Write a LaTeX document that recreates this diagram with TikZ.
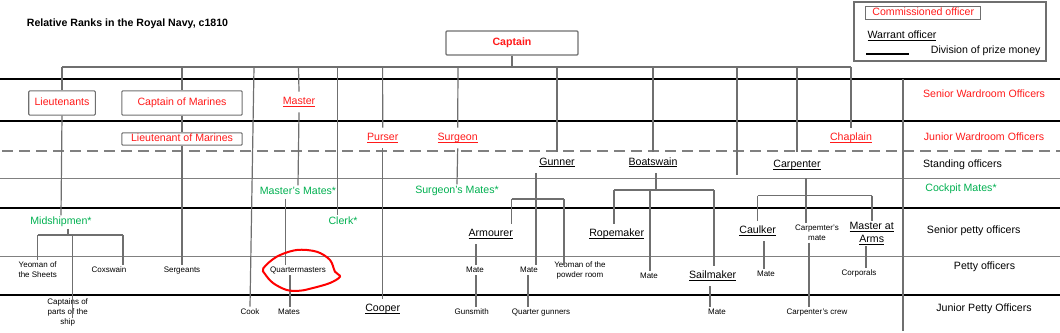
\documentclass[tikz,border=0pt]{standalone}
\usepackage{fontspec}
\setmainfont{Liberation Sans}
\definecolor{ln}{HTML}{6F6F6F}
\definecolor{rl}{HTML}{808080}
\definecolor{rd}{HTML}{FF1A1A}
\definecolor{gr}{HTML}{00B050}
\newcommand\ulin[1]{\setbox0=\hbox{#1}\rlap{\rule[-1.7pt]{\wd0}{0.7pt}}\box0}
\tikzset{
  base/.style={inner sep=1.5pt, font=\fontsize{10.6}{13}\selectfont, text height=7.7pt, text depth=2.2pt},
  multi/.style={inner sep=1.5pt, font=\fontsize{10.6}{13}\selectfont, align=center},
  offc/.style={base, text=rd, outer sep=4pt},
  wo/.style={base, outer sep=4pt},
  grn/.style={base, text=gr},
  sml/.style={inner sep=1.5pt, font=\fontsize{8}{10}\selectfont, text height=5.8pt, text depth=1.7pt},
  smlm/.style={inner sep=1.5pt, font=\fontsize{8}{10}\selectfont, align=center},
  rbox/.style={base, text=rd, draw=ln, line width=1.1pt, fill=white, rounded corners=1pt},
  conn/.style={draw=ln, line width=1.2pt},
  thickrule/.style={line width=2.8pt, draw=black},
  thinrule/.style={line width=1pt, draw=rl},
  dashrule/.style={line width=1.4pt, draw=rl, dash pattern=on 11pt off 6pt},
}
\begin{document}
\begin{tikzpicture}[x=1pt,y=-1pt]
\useasboundingbox (0,0) rectangle (1060,332);
% horizontal rules
\draw[thickrule] (0,79) -- (1060,79);
\draw[thickrule] (0,121) -- (1060,121);
\draw[dashrule] (2,151) -- (1060,151);
\draw[thinrule] (0,178) -- (1060,178);
\draw[thickrule] (0,208) -- (1060,208);
\draw[thinrule] (0,256) -- (1060,256);
\draw[thickrule] (0,295) -- (1060,295);
\draw[conn] (903,79) -- (903,331);
% title and legend
\node[base, font=\bfseries\fontsize{10.6}{13}\selectfont] (title) at (127.5,24) {Relative Ranks in the Royal Navy, c1810};
\node[draw=ln, line width=1.1pt, minimum width=192pt, minimum height=59pt, inner sep=0] (legend) at (950,31.5) {};
\node[base, text=rd, draw=ln, line width=1.1pt, minimum width=115pt, minimum height=12.5pt, inner sep=0] (lgcomm) at (923.3,12.9) {Commissioned officer};
\node[base] (lgwarr) at (902,36) {\ulin{Warrant officer}};
\coordinate (lgl1) at (866,54);
\coordinate (lgl2) at (909,54);
\draw[line width=2.8pt] (lgl1) -- (lgl2);
\node[base] (lgdiv) at (985.7,51) {Division of prize money};
% right column
\node[base, text=rd] (srw) at (984,95) {Senior Wardroom Officers};
\node[base, text=rd] (jrw) at (984,137.7) {Junior Wardroom Officers};
\node[base] (stand) at (962.5,165) {Standing officers};
\node[grn] (cock) at (961,189) {Cockpit Mates*};
\node[base] (spo) at (973.7,231) {Senior petty officers};
\node[base] (po) at (984.5,267) {Petty officers};
\node[base] (jpo) at (984,309) {Junior Petty Officers};
% main nodes
\node[rbox, font=\bfseries\fontsize{10.6}{13}\selectfont, minimum width=132pt, minimum height=24pt] (captain) at (512,43) {Captain};
\node[rbox, minimum width=66.6pt, minimum height=24.3pt] (lieut) at (62,103) {Lieutenants};
\node[rbox, minimum width=120.3pt, minimum height=24.3pt] (capmar) at (182,103) {Captain of Marines};
\node[rbox, minimum width=120.3pt, minimum height=12.3pt, inner sep=0pt] (ltmar) at (182,139) {Lieutenant of Marines};
\node[offc] (master) at (299,102) {\ulin{Master}};
\node[offc] (purser) at (382.7,138) {\ulin{Purser}};
\node[offc] (surgeon) at (457.7,138) {\ulin{Surgeon}};
\node[offc] (chaplain) at (851,138) {\ulin{Chaplain}};
\node[wo] (gunner) at (557,162.5) {\ulin{Gunner}};
\node[wo] (boatswain) at (653,162.5) {\ulin{Boatswain}};
\node[base, fill=white, minimum width=67pt, minimum height=26pt, inner sep=0pt] (carpenter) at (797,165) {\ulin{Carpenter}};
\node[grn] (mmates) at (298,192) {Master’s Mates*};
\node[grn] (smates) at (457,191) {Surgeon’s Mates*};
\node[grn] (midship) at (61,222) {Midshipmen*};
\node[grn] (clerk) at (343,222) {Clerk*};
\node[wo] (armourer) at (490.7,234) {\ulin{Armourer}};
\node[wo] (ropemaker) at (616.7,234) {\ulin{Ropemaker}};
\node[wo] (caulker) at (757.7,231) {\ulin{Caulker}};
\node[smlm] (carpmate) at (817,233) {Carpemter's\\mate};
\node[multi] (maa) at (871.7,233.5) {\ulin{Master at}\\\ulin{Arms}};
\node[wo] (sailmaker) at (712.7,276) {\ulin{Sailmaker}};
\node[wo] (cooper) at (382.7,309) {\ulin{Cooper}};
% small labels
\node[smlm] (ysheets) at (37.7,270) {Yeoman of\\the Sheets};
\node[sml] (coxswain) at (109,270) {Coxswain};
\node[sml] (serg) at (182,270) {Sergeants};
\node[sml] (qm) at (298,270) {Quartermasters};
\node[sml] (mate1) at (475,270) {Mate};
\node[sml] (mate2) at (529,270) {Mate};
\node[smlm] (ypowder) at (580,270) {Yeoman of the\\powder room};
\node[sml] (mate3) at (649,276) {Mate};
\node[sml] (mate4) at (766,274) {Mate};
\node[sml] (corporals) at (859,273) {Corporals};
\node[smlm] (cparts) at (67.7,312) {Captains of\\parts of the\\ship};
\node[sml] (cook) at (250,312) {Cook};
\node[sml] (mates) at (289,312) {Mates};
\node[sml] (gunsmith) at (471.7,312) {Gunsmith};
\node[sml] (qgunners) at (541,312) {Quarter gunners};
\node[sml] (mate5) at (717,312) {Mate};
\node[sml] (carpcrew) at (817,312) {Carpenter's crew};
% junctions
\coordinate (capj) at (512,67);
\coordinate (barL) at (62,67);
\coordinate (barR) at (851,67);
\coordinate (j182) at (182,67);
\coordinate (j254) at (254,67);
\coordinate (j298) at (298.5,67);
\coordinate (j337) at (337.5,67);
\coordinate (j382) at (382.6,67);
\coordinate (j458) at (458,67);
\coordinate (j557) at (557,67);
\coordinate (j653) at (653,67);
\coordinate (j737) at (737,67);
\coordinate (e737) at (737,175);
\coordinate (j797) at (797,67);
% top connectors
\draw[conn] (captain.south) -- (capj);
\draw[conn] (barL) -- (barR);
\draw[conn] (barL) -- (lieut.north);
\draw[conn] (lieut.south) -- (midship.north);
\draw[conn] (j182) -- (capmar.north);
\draw[conn] (capmar.south) -- (ltmar.north);
\draw[conn] (ltmar.south) -- (serg.north);
\draw[conn] (j254) -- (cook.north);
\draw[conn] (j298) -- (master.north);
\draw[conn] (master.south) -- (mmates.north);
\draw[conn] (j337) -- (j337 |- clerk.north);
\draw[conn] (j382) -- (purser.north);
\draw[conn] (purser.south) -- (cooper.north);
\draw[conn] (j458) -- (surgeon.north);
\draw[conn] (surgeon.south) -- (smates.north);
\draw[conn] (j557) -- (gunner.north);
\draw[conn] (j653) -- (boatswain.north);
\draw[conn] (j737) -- (e737);
\draw[conn] (j797) -- (carpenter.north);
\draw[conn] (barR) -- (chaplain.north);
% midshipmen group
\coordinate (mj) at (68,235);
\coordinate (mL) at (37.7,235);
\coordinate (mR) at (123,235);
\coordinate (mC) at (72.3,235);
\coordinate (mCend) at (72.3,318);
\draw[conn] (midship.south -| mj) -- (mj);
\draw[conn] (mL) -- (mR);
\draw[conn] (mL) -- (ysheets.north);
\draw[conn] (mR) -- (mR |- coxswain.north);
\draw[conn] (mC) -- (mCend);
% quartermasters
\coordinate (qx) at (285.7,0);
\coordinate (qx2) at (290,0);
\draw[conn] (mmates.south -| qx) -- (qm.north -| qx);
\draw[conn] (qm.south -| qx2) -- (mates.north -| qx2);
% gunner group
\coordinate (gj) at (536,199);
\coordinate (gL) at (511.7,199);
\coordinate (gR) at (564,199);
\coordinate (gRend) at (564,265);
\draw[conn] (gunner.south -| gj) -- (gj |- mate2.north);
\draw[conn] (gL) -- (gR);
\draw[conn] (gL) -- (gL |- armourer.north);
\draw[conn] (gR) -- (gRend);
\coordinate (g2x) at (528,0);
\draw[conn] (mate2.south -| g2x) -- (qgunners.north -| g2x);
\coordinate (ax) at (476,0);
\draw[conn] (armourer.south -| ax) -- (mate1.north -| ax);
\draw[conn] (mate1.south -| ax) -- (gunsmith.north -| ax);
% boatswain group
\coordinate (bj) at (656,190);
\coordinate (bL) at (614,190);
\coordinate (bM) at (650,190);
\coordinate (bR) at (714,190);
\draw[conn] (boatswain.south -| bj) -- (bj);
\draw[conn] (bL) -- (bR);
\draw[conn] (bL) -- (bL |- ropemaker.north);
\draw[conn] (bM) -- (bM |- mate3.north);
\draw[conn] (bR) -- (bR |- sailmaker.north);
\coordinate (sx) at (710,0);
\draw[conn] (sailmaker.south -| sx) -- (mate5.north -| sx);
% carpenter group
\coordinate (cj) at (806,195.7);
\coordinate (cL) at (757.7,195.7);
\coordinate (cR) at (872,195.7);
\draw[conn] (carpenter.south -| cj) -- (carpmate.north -| cj);
\draw[conn] (cL) -- (cR);
\draw[conn] (cL) -- (caulker.north);
\draw[conn] (cR) -- (cR |- maa.north);
\coordinate (kx) at (764,0);
\draw[conn] (caulker.south -| kx) -- (mate4.north -| kx);
\coordinate (cmx) at (809,0);
\draw[conn] (carpmate.south -| cmx) -- (carpcrew.north -| cmx);
\coordinate (mx) at (866,0);
\draw[conn] (maa.south -| mx) -- (corporals.north -| mx);
% red scribble
\draw[color=red, line width=2pt] plot[smooth cycle, tension=0.55] coordinates {(263.3,268.3) (276.7,256.7) (296.7,250) (316.7,251.7) (330,260) (335,271.7) (340,276.7) (330,283) (313,288) (300,290.7) (286.7,290) (273,283) (265,274)};
\end{tikzpicture}
\end{document}
